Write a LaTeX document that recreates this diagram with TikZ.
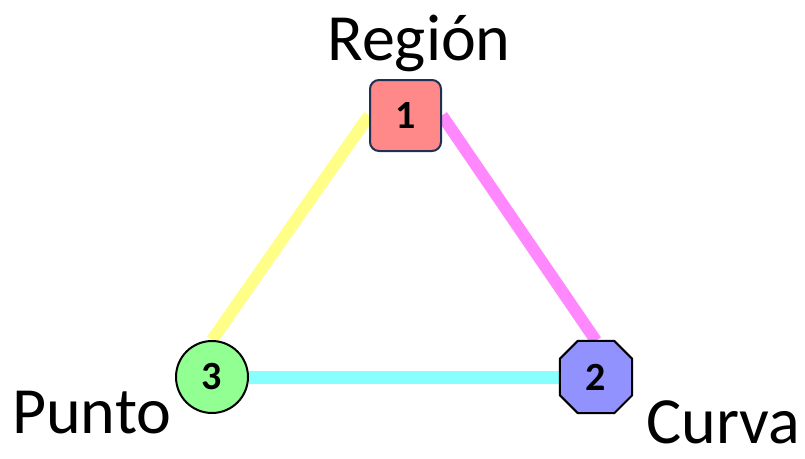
\documentclass[tikz,border=0pt]{standalone}
\usepackage{fontspec}
\setmainfont{Carlito}
\usetikzlibrary{backgrounds}

\definecolor{sqfill}{RGB}{255,136,136}
\definecolor{sqdraw}{RGB}{31,48,80}
\definecolor{octfill}{RGB}{146,146,255}
\definecolor{circfill}{RGB}{146,255,146}
\definecolor{edgeyellow}{RGB}{255,255,136}
\definecolor{edgepink}{RGB}{255,136,255}
\definecolor{edgecyan}{RGB}{136,255,255}

\tikzset{
  numlabel/.style={font=\bfseries\fontsize{40}{42}\selectfont, text=black, inner sep=0pt},
  squarenode/.style={numlabel, rectangle, rounded corners=9pt, fill=sqfill, draw=sqdraw,
    line width=2pt, minimum width=71pt, minimum height=71pt},
  octnode/.style={numlabel, rectangle, minimum width=72pt, minimum height=72pt},
  octshape/.style={fill=octfill, draw=black, line width=2pt, line join=round},
  circnode/.style={numlabel, circle, fill=circfill, draw=black, line width=2pt,
    minimum size=72pt},
  bigtext/.style={font=\fontsize{66}{72}\selectfont, inner sep=0pt},
  band/.style={line width=#1},
}

\begin{document}
\begin{tikzpicture}[x=1pt,y=-1pt]
  \useasboundingbox (0,0) rectangle (805,458);

  % vertices
  \node[squarenode] (n1) at (405.5,115.5) {1};
  \node[octnode]    (n2) at (596,377) {2};
  \node[circnode]   (n3) at (212,377) {3};

  % white ground, edges and the octagon body sit behind the numbers
  \begin{scope}[on background layer]
    \fill[white] (0,0) rectangle (805,458);
    \draw[band=12pt, edgeyellow] (n1.west) -- (n3.north);
    \draw[band=12pt, edgepink] (n1.east) -- (n2.north);
    \draw[band=13pt, edgecyan] (n3.east) -- (n2.west);
    \filldraw[octshape]
      ([xshift=18pt]n2.north west) -- ([xshift=-18pt]n2.north east) --
      ([yshift=-18pt]n2.north east) -- ([yshift=18pt]n2.south east) --
      ([xshift=-18pt]n2.south east) -- ([xshift=18pt]n2.south west) --
      ([yshift=18pt]n2.south west) -- ([yshift=-18pt]n2.north west) -- cycle;
  \end{scope}

  % captions
  \node[bigtext, anchor=base] (lr) at (419,60) {Región};
  \node[bigtext, anchor=base west] (lp) at (12,433) {Punto};
  \node[bigtext, anchor=base west] (lc) at (646,443) {Curva};
\end{tikzpicture}
\end{document}
